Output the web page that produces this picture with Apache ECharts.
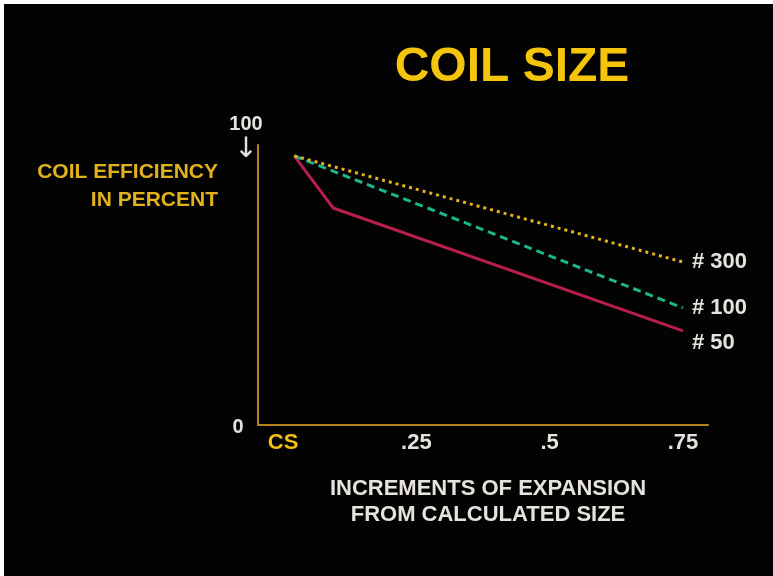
<!DOCTYPE html>
<html>
<head>
<meta charset="utf-8">
<script src="https://cdn.jsdelivr.net/npm/echarts@6/dist/echarts.min.js"></script>
<style>
  html, body { margin: 0; padding: 0; background: #ffffff; }
  #bg { position: absolute; left: 4px; top: 4px; width: 769px; height: 572px; background: #030303; }
  #chart { position: absolute; left: 0; top: 0; width: 773px; height: 576px; }
</style>
</head>
<body>
<div id="bg"></div>
<div id="chart"></div>
<script>
// ---- data ----
const titleText = 'COIL SIZE';
const yAxisName = 'COIL EFFICIENCY\nIN PERCENT';
const xAxisName = 'INCREMENTS OF EXPANSION\nFROM CALCULATED SIZE';
const xTickValues = [0, 0.25, 0.5, 0.75];
const xTickLabels = ['CS', '.25', '.5', '.75'];
const yTickValues = [0, 100];
const yTickLabels = ['0', '100'];

const seriesNames = ['# 50', '# 100', '# 300'];
const mesh50X = [0.021, 0.094, 0.75];
const mesh50Y = [96.1, 77.5, 33.6];
const mesh100X = [0.021, 0.75];
const mesh100Y = [96.1, 41.8];
const mesh300X = [0.021, 0.75];
const mesh300Y = [96.1, 58.2];

function pairs(xs, ys) { return xs.map((x, i) => [x, ys[i]]); }

const chart = echarts.init(document.getElementById('chart'), null, { renderer: 'canvas' });
const font = '"Liberation Sans", Arial, Helvetica, sans-serif';
const axisColor = '#b8841c';
const labelWhite = '#e6e2dc';

function endLabel(text, offset) {
  return {
    show: true,
    formatter: text,
    color: labelWhite,
    fontFamily: font,
    fontWeight: 'bold',
    fontSize: 22,
    distance: 9,
    offset: offset
  };
}

chart.setOption({
  backgroundColor: 'transparent',
  animation: false,
  title: [
    {
      text: titleText,
      left: 507,
      top: 39,
      textAlign: 'center',
      textStyle: { color: '#f5c40c', fontFamily: font, fontWeight: 'bold', fontSize: 48, lineHeight: 48 }
    },
    {
      text: yAxisName,
      left: 213,
      top: 153,
      textAlign: 'right',
      textStyle: { color: '#e2b21c', fontFamily: font, fontWeight: 'bold', fontSize: 21, lineHeight: 28, align: 'right' }
    }
  ],
  grid: { left: 258, right: 65, top: 145, bottom: 151, containLabel: false },
  xAxis: {
    type: 'value',
    min: -0.047,
    max: 0.797,
    name: xAxisName,
    nameLocation: 'middle',
    nameGap: 51,
    nameTextStyle: { color: labelWhite, fontFamily: font, fontWeight: 'bold', fontSize: 22, lineHeight: 26, padding: [0, 0, 0, 10] },
    axisLine: { show: true, onZero: false, lineStyle: { color: axisColor, width: 2 } },
    axisTick: { show: false },
    splitLine: { show: false },
    axisLabel: {
      customValues: xTickValues,
      margin: 7,
      fontFamily: font,
      fontWeight: 'bold',
      fontSize: 22,
      color: labelWhite,
      formatter: function (v) {
        const i = xTickValues.indexOf(v);
        const t = i >= 0 ? xTickLabels[i] : '';
        return i === 0 ? '{cs|' + t + '}' : t;
      },
      rich: { cs: { color: '#f0be14', fontFamily: font, fontWeight: 'bold', fontSize: 22 } }
    }
  },
  yAxis: {
    type: 'value',
    min: 0,
    max: 100,
    axisLine: { show: true, onZero: false, lineStyle: { color: axisColor, width: 2 } },
    axisTick: { show: false },
    splitLine: { show: false },
    axisLabel: {
      customValues: yTickValues,
      margin: 12,
      align: 'center',
      color: labelWhite,
      fontFamily: font,
      fontWeight: 'bold',
      fontSize: 20,
      formatter: function (v) {
        const i = yTickValues.indexOf(v);
        const t = i >= 0 ? yTickLabels[i] : '';
        if (v === 100) return '{n|' + t + '}\n{a|↓}\n{e| }';
        return '{z|' + t + '}';
      },
      rich: {
        n: { color: labelWhite, fontFamily: font, fontWeight: 'bold', fontSize: 20, lineHeight: 26 },
        a: { color: labelWhite, fontFamily: '"DejaVu Sans", sans-serif', fontWeight: 'normal', fontSize: 28, lineHeight: 26 },
        e: { fontSize: 10, lineHeight: 16 },
        z: { color: labelWhite, fontFamily: font, fontWeight: 'bold', fontSize: 20, padding: [4, 16, 0, 0] }
      }
    }
  },
  series: [
    {
      name: seriesNames[0],
      type: 'line',
      data: pairs(mesh50X, mesh50Y),
      symbol: 'none',
      lineStyle: { color: '#b51f48', width: 3, type: 'solid' },
      endLabel: endLabel(seriesNames[0], [0, 12]),
      z: 2
    },
    {
      name: seriesNames[1],
      type: 'line',
      data: pairs(mesh100X, mesh100Y),
      symbol: 'none',
      lineStyle: { color: '#1cb58c', width: 3, type: [8, 5] },
      endLabel: endLabel(seriesNames[1], [0, 0]),
      z: 3
    },
    {
      name: seriesNames[2],
      type: 'line',
      data: pairs(mesh300X, mesh300Y),
      symbol: 'none',
      lineStyle: { color: '#e6b21e', width: 3, type: [3, 4] },
      endLabel: endLabel(seriesNames[2], [0, 0]),
      z: 4
    }
  ]
});
</script>
</body>
</html>
